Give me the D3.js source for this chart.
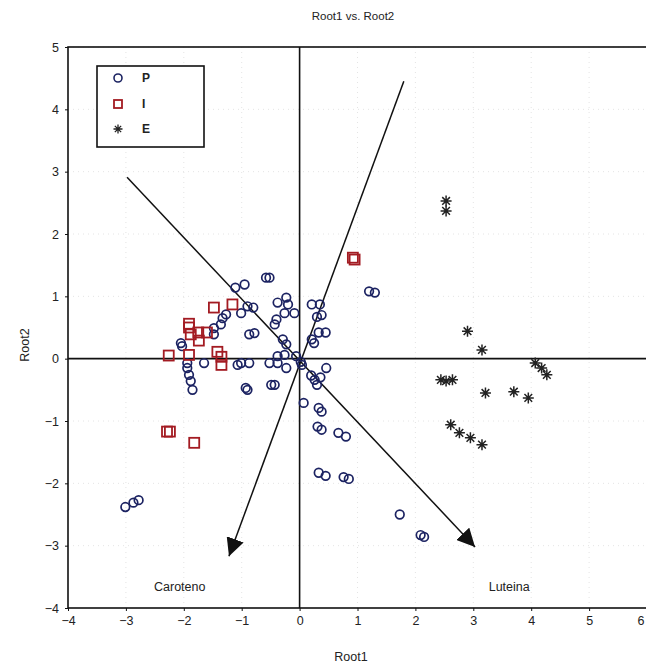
<!DOCTYPE html>
<html><head><meta charset="utf-8">
<script src="https://cdn.jsdelivr.net/npm/d3@7"></script>
<style>body{margin:0;background:#fff}svg{display:block}text{font-family:"Liberation Sans",Arial,sans-serif;fill:#222}</style>
</head><body>
<script>
const title = "Root1 vs. Root2";
const xLabel = "Root1";
const yLabel = "Root2";
const xTicks = [-4,-3,-2,-1,0,1,2,3,4,5,6];
const yTicks = [-4,-3,-2,-1,0,1,2,3,4,5];
const legendLabels = ["P","I","E"];

const groupP = [
 [-3.01,-2.38],[-2.87,-2.31],[-2.78,-2.27],
 [1.73,-2.5],[2.09,-2.83],[2.15,-2.86],
 [0.33,-1.83],[0.45,-1.88],[0.76,-1.9],[0.85,-1.93],
 [0.31,-1.09],[0.38,-1.14],[0.67,-1.19],[0.8,-1.25],
 [0.33,-0.79],[0.38,-0.85],[0.07,-0.71],
 [0.2,-0.27],[0.26,-0.34],[0.3,-0.42],[0.36,-0.3],[0.46,-0.15],
 [0.02,-0.05],[0.04,-0.1],
 [0.21,0.87],[0.35,0.87],[0.38,0.7],[0.3,0.67],[0.33,0.42],[0.45,0.42],[0.21,0.31],[0.25,0.25],
 [1.2,1.08],[1.3,1.06],
 [-0.58,1.3],[-0.52,1.3],
 [-1.11,1.14],[-0.95,1.19],
 [-0.9,0.84],[-0.8,0.82],[-1.01,0.73],
 [-0.38,0.9],[-0.23,0.98],[-0.2,0.87],[-0.09,0.73],[-0.26,0.73],
 [-0.4,0.63],[-0.43,0.55],
 [-0.87,0.39],[-0.78,0.41],
 [-1.27,0.71],[-1.33,0.65],
 [-1.36,0.55],[-1.48,0.49],[-1.48,0.39],
 [-2.05,0.25],[-2.03,0.2],
 [-0.29,0.31],[-0.23,0.23],
 [-0.38,0.04],[-0.26,0.06],[-0.06,0.04],
 [-1.94,-0.07],[-1.65,-0.07],[-1.07,-0.1],[-1.01,-0.07],[-0.87,-0.07],[-0.52,-0.07],[-0.38,-0.07],[-0.23,-0.15],
 [-1.94,-0.15],[-1.91,-0.26],[-1.88,-0.36],[-1.85,-0.5],
 [-0.93,-0.47],[-0.9,-0.5],
 [-0.49,-0.42],[-0.43,-0.42]
];
const groupI = [
 [-1.48,0.82],[-1.16,0.87],[-1.91,0.56],[-1.91,0.5],[-1.75,0.42],[-1.74,0.29],
 [-1.6,0.42],[-1.88,0.39],[-2.26,0.05],[-1.91,0.06],[-1.42,0.11],[-1.35,0.03],[-1.35,-0.1],
 [0.92,1.62],[0.95,1.59],
 [-2.29,-1.17],[-2.24,-1.17],[-1.82,-1.35]
];
const groupE = [
 [2.53,2.53],[2.53,2.37],
 [2.9,0.44],[3.15,0.14],
 [4.07,-0.07],[4.18,-0.15],[4.27,-0.26],
 [2.44,-0.34],[2.53,-0.36],[2.64,-0.34],
 [3.21,-0.55],[3.7,-0.53],[3.95,-0.63],
 [2.61,-1.06],[2.76,-1.19],[2.95,-1.27],[3.15,-1.38]
];
const vectors = [
 {from:[1.8,4.45], to:[-1.22,-3.17]},
 {from:[-2.98,2.91], to:[3.03,-3.02]}
];
const vectorLabels = [
 {text:"Caroteno", at:[-2.07,-3.72]},
 {text:"Luteina", at:[3.62,-3.72]}
];

const W = 646, H = 667;
const svg = d3.select("body").append("svg").attr("width",W).attr("height",H);
const x = d3.scaleLinear().domain([-4,6]).range([68,647]);
const y = d3.scaleLinear().domain([-4,5]).range([608,47]);

// faint grid
const grid = svg.append("g").attr("stroke","#e4e4e4").attr("stroke-width",1).attr("stroke-dasharray","1,4");
grid.selectAll(".gx").data(xTicks.slice(1)).join("line")
  .attr("x1",d=>x(d)).attr("x2",d=>x(d)).attr("y1",y(5)).attr("y2",y(-4));
grid.selectAll(".gy").data(yTicks.slice(1)).join("line")
  .attr("y1",d=>y(d)).attr("y2",d=>y(d)).attr("x1",x(-4)).attr("x2",x(6));

// frame
svg.append("rect").attr("x",x(-4)).attr("y",y(5)).attr("width",x(6)-x(-4)).attr("height",y(-4)-y(5))
  .attr("fill","none").attr("stroke","#111").attr("stroke-width",1.6);

// zero lines
svg.append("line").attr("x1",x(0)).attr("x2",x(0)).attr("y1",y(5)).attr("y2",y(-4)).attr("stroke","#111").attr("stroke-width",1.6);
svg.append("line").attr("x1",x(-4)).attr("x2",x(6)).attr("y1",y(0)).attr("y2",y(0)).attr("stroke","#111").attr("stroke-width",1.6);

// axes
const xAxis = svg.append("g").attr("transform",`translate(0,${y(-4)})`)
  .call(d3.axisBottom(x).tickValues(xTicks).tickSize(3).tickPadding(5).tickFormat(d3.format("d")));
const yAxis = svg.append("g").attr("transform",`translate(${x(-4)},0)`)
  .call(d3.axisLeft(y).tickValues(yTicks).tickSize(3).tickPadding(6).tickFormat(d3.format("d")));
[xAxis,yAxis].forEach(a=>{a.select(".domain").remove();a.selectAll("line").attr("stroke","#111");
  a.selectAll("text").attr("font-size",12.5).attr("font-family","Liberation Sans, Arial, sans-serif").attr("fill","#222");});
xAxis.selectAll(".tick").filter(d=>d===6).select("text").attr("text-anchor","end").attr("dx","-3");

// vectors
svg.append("defs").append("marker").attr("id","ah").attr("viewBox","0 0 10 10").attr("refX",10).attr("refY",5)
  .attr("markerWidth",18).attr("markerHeight",18).attr("markerUnits","userSpaceOnUse").attr("orient","auto")
  .append("path").attr("d","M0,0 L10,5 L0,10 Z").attr("fill","#111");
svg.selectAll(".vec").data(vectors).join("line")
  .attr("x1",d=>x(d.from[0])).attr("y1",d=>y(d.from[1])).attr("x2",d=>x(d.to[0])).attr("y2",d=>y(d.to[1]))
  .attr("stroke","#111").attr("stroke-width",1.5).attr("marker-end","url(#ah)");
svg.selectAll(".vl").data(vectorLabels).join("text")
  .attr("x",d=>x(d.at[0])).attr("y",d=>y(d.at[1])).attr("text-anchor","middle").attr("font-size",12.5).text(d=>d.text);

// points
const navy = "#1c2362", red = "#a31b22";
svg.append("g").selectAll("circle").data(groupP).join("circle")
  .attr("cx",d=>x(d[0])).attr("cy",d=>y(d[1])).attr("r",4.3)
  .attr("fill","none").attr("stroke",navy).attr("stroke-width",1.7);
svg.append("g").selectAll("rect").data(groupI).join("rect")
  .attr("x",d=>x(d[0])-5).attr("y",d=>y(d[1])-5).attr("width",10).attr("height",10)
  .attr("fill","none").attr("stroke",red).attr("stroke-width",1.8);
const star = s => `M${-s},0L${s},0M0,${-s}L0,${s}M${-s*0.7},${-s*0.7}L${s*0.7},${s*0.7}M${-s*0.7},${s*0.7}L${s*0.7},${-s*0.7}`;
svg.append("g").selectAll("path").data(groupE).join("path")
  .attr("transform",d=>`translate(${x(d[0])},${y(d[1])})`).attr("d",star(5.5))
  .attr("fill","none").attr("stroke","#222").attr("stroke-width",1.5);

// legend
const lg = svg.append("g");
lg.append("rect").attr("x",97).attr("y",66).attr("width",107).attr("height",81).attr("fill","#fff").attr("stroke","#111").attr("stroke-width",1.6);
const ly = [78,104,129];
lg.append("circle").attr("cx",118).attr("cy",ly[0]).attr("r",4).attr("fill","none").attr("stroke",navy).attr("stroke-width",1.6);
lg.append("rect").attr("x",114).attr("y",ly[1]-4).attr("width",8).attr("height",8).attr("fill","none").attr("stroke",red).attr("stroke-width",1.8);
lg.append("path").attr("transform",`translate(118,${ly[2]})`).attr("d",star(4.5)).attr("fill","none").attr("stroke","#222").attr("stroke-width",1.3);
lg.selectAll(".lt").data(legendLabels).join("text").attr("x",142).attr("y",(d,i)=>ly[i]+4).attr("font-size",12).attr("font-weight","bold").text(d=>d);

// titles
svg.append("text").attr("x",353).attr("y",20).attr("text-anchor","middle").attr("font-size",11.5).text(title);
svg.append("text").attr("x",351).attr("y",661).attr("text-anchor","middle").attr("font-size",12.5).text(xLabel);
svg.append("text").attr("transform","translate(29,345) rotate(-90)").attr("text-anchor","middle").attr("font-size",12.5).text(yLabel);
</script>
</body></html>
